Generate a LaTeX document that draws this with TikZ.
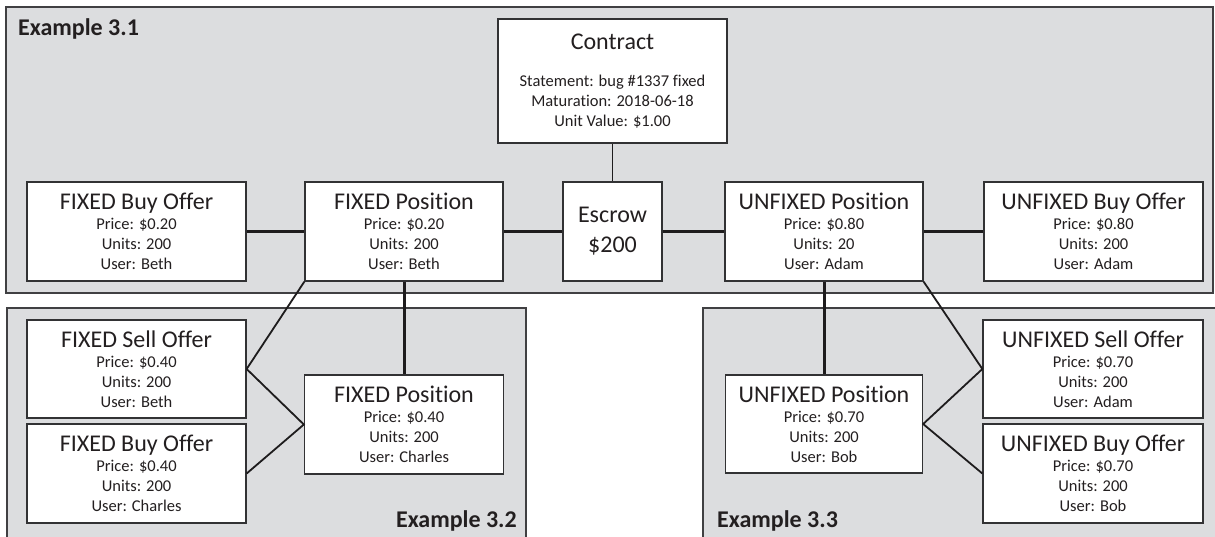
\documentclass[tikz,border=0pt]{standalone}
\usepackage{fontspec}
\setmainfont{Carlito}[Ligatures=NoCommon]
\definecolor{panelfill}{RGB}{220,221,223}
\definecolor{panelline}{RGB}{64,64,66}
\definecolor{boxline}{RGB}{50,50,52}
\definecolor{linec}{RGB}{30,28,29}
\definecolor{txt}{RGB}{35,31,32}
\newcommand{\bxtitle}[1]{{\fontsize{24}{20}\selectfont #1}}
\begin{document}
\begin{tikzpicture}[x=1pt,y=-1pt,
  panel/.style={draw=panelline, fill=panelfill, line width=1.3pt},
  box/.style={draw=boxline, fill=white, line width=1.3pt, align=center, inner sep=0pt,
    text=txt, font=\fontsize{16.5}{20}\selectfont},
  thickc/.style={line width=3pt, draw=linec},
  thinc/.style={line width=1.8pt, draw=linec},
  exlabel/.style={font=\bfseries\fontsize{24}{28}\selectfont, text=txt, inner sep=0pt}]
\useasboundingbox (0,0) rectangle (1215,536);
% panels
\draw[panel] (6,7) rectangle (1213,293);
\draw[panel] (7,308) rectangle (526,545);
\draw[panel] (703,308) rectangle (1230,545);
\node[exlabel, anchor=base west] (ex1) at (18,35.5) {Example 3.1};
\node[exlabel, anchor=base east] (ex2) at (517,527) {Example 3.2};
\node[exlabel, anchor=base west] (ex3) at (717,527) {Example 3.3};
% top row
\node[box, minimum width=219pt, minimum height=99pt] (fbo) at (136.5,231.5)
  {\bxtitle{FIXED Buy Offer}\\ Price: \$0.20\\ Units: 200\\ User: Beth};
\node[box, minimum width=198pt, minimum height=99pt] (fp) at (404,231.5)
  {\bxtitle{FIXED Position}\\ Price: \$0.20\\ Units: 200\\ User: Beth};
\node[box, minimum width=99pt, minimum height=99pt, font=\fontsize{24}{30}\selectfont] (esc) at (612.5,231.5)
  {Escrow\\ \$200};
\node[box, minimum width=198pt, minimum height=99pt] (up) at (824,231.5)
  {\bxtitle{UNFIXED Position}\\ Price: \$0.80\\ Units: 20\\ User: Adam};
\node[box, minimum width=219pt, minimum height=99pt] (ubo) at (1093.5,231.5)
  {\bxtitle{UNFIXED Buy Offer}\\ Price: \$0.80\\ Units: 200\\ User: Adam};
\node[box, minimum width=229pt, minimum height=124pt] (con) at (612.5,81)
  {\bxtitle{Contract}\\[17pt] Statement: bug \#1337 fixed\\ Maturation: 2018-06-18\\ Unit Value: \$1.00};
% example 3.2
\node[box, minimum width=219pt, minimum height=98pt] (fso) at (136.5,369)
  {\bxtitle{FIXED Sell Offer}\\ Price: \$0.40\\ Units: 200\\ User: Beth};
\node[box, minimum width=219pt, minimum height=99pt] (fbo2) at (136.5,473.5)
  {\bxtitle{FIXED Buy Offer}\\ Price: \$0.40\\ Units: 200\\ User: Charles};
\node[box, minimum width=199pt, minimum height=99pt] (fp2) at (404,424.5)
  {\bxtitle{FIXED Position}\\ Price: \$0.40\\ Units: 200\\ User: Charles};
% example 3.3
\node[box, minimum width=197pt, minimum height=98pt] (up2) at (824,424)
  {\bxtitle{UNFIXED Position}\\ Price: \$0.70\\ Units: 200\\ User: Bob};
\node[box, minimum width=220pt, minimum height=98pt] (uso) at (1093,369)
  {\bxtitle{UNFIXED Sell Offer}\\ Price: \$0.70\\ Units: 200\\ User: Adam};
\node[box, minimum width=220pt, minimum height=99pt] (ubo2) at (1093,473.5)
  {\bxtitle{UNFIXED Buy Offer}\\ Price: \$0.70\\ Units: 200\\ User: Bob};
% connectors
\draw[thickc] (fbo.east) -- (fp.west);
\draw[thickc] (fp.east) -- (esc.west);
\draw[thickc] (esc.east) -- (up.west);
\draw[thickc] (up.east) -- (ubo.west);
\draw[thickc] (fp.south) -- (fp2.north);
\draw[thickc] (up.south) -- (up2.north);
\draw[thinc] (con.south) -- (esc.north);
\draw[thinc] (fp.south west) -- (fso.east);
\draw[thinc] (fso.east) -- (fp2.west) -- (fbo2.east);
\draw[thinc] (up.south east) -- (uso.west);
\draw[thinc] (uso.west) -- (up2.east) -- (ubo2.west);
\end{tikzpicture}
\end{document}
